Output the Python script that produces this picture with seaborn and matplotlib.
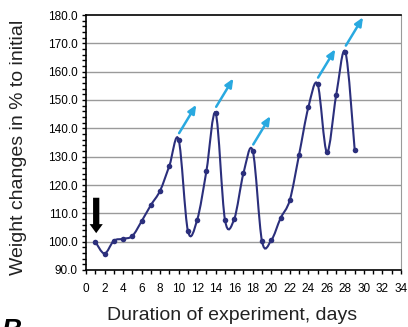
import numpy as np
import matplotlib
matplotlib.use("Agg")
import matplotlib.pyplot as plt
from matplotlib.path import Path
from matplotlib.patches import PathPatch
import seaborn as sns

days = np.arange(1, 30)
weights = [100.0, 95.8, 100.3, 101.0, 102.0, 107.2, 112.9, 118.0, 126.8, 136.0,
           103.8, 107.7, 125.0, 145.3, 107.7, 108.0, 124.2, 132.0, 100.1, 100.5,
           108.3, 114.7, 130.7, 147.4, 155.6, 131.6, 151.6, 166.9, 132.5]
arrow_days = [10, 14, 18, 25, 28]   # peaks marked with blue arrows
start_day = 1                       # black arrow

x_ticks = np.arange(0, 35, 2)
y_ticks = np.arange(90, 181, 10)

sns.set_style("ticks")
plt.rcParams['font.family'] = ['Liberation Sans', 'DejaVu Sans']
plt.rcParams['text.color'] = 'black'

fig = plt.figure(figsize=(4.08, 3.27), dpi=100)
ax = fig.add_axes([86 / 408, 1 - 270 / 327, 315 / 408, 255 / 327])

navy = '#2b2f7c'
cyan = '#29a9e0'

# smoothed line (Catmull-Rom style, like Excel "smoothed line")
pts = np.column_stack([days, weights]).astype(float)
n = len(pts)
verts = [pts[0]]
codes = [Path.MOVETO]
for i in range(n - 1):
    p0 = pts[max(i - 1, 0)]
    p1 = pts[i]
    p2 = pts[i + 1]
    p3 = pts[min(i + 2, n - 1)]
    verts += [p1 + (p2 - p0) / 6, p2 - (p3 - p1) / 6, p2]
    codes += [Path.CURVE4] * 3
ax.add_patch(PathPatch(Path(verts, codes), facecolor='none', edgecolor=navy,
                       lw=1.5, zorder=3))
sns.scatterplot(x=days, y=weights, ax=ax, color=navy, s=16, linewidth=0, zorder=4)

wmap = dict(zip(days, weights))
for d in arrow_days:
    y0 = wmap[d] + 2.3
    ax.annotate('', xy=(d + 1.9, y0 + 10), xytext=(d + 0.05, y0),
                arrowprops=dict(arrowstyle='-|>,head_length=0.5,head_width=0.22',
                                color=cyan, lw=1.8, shrinkA=0, shrinkB=0), zorder=5)

ax.annotate('', xy=(start_day + 0.1, wmap[start_day] + 3), xytext=(start_day + 0.1, wmap[start_day] + 15.5),
            arrowprops=dict(arrowstyle='simple,head_length=0.65,head_width=0.95,tail_width=0.45',
                            color='black', lw=0, shrinkA=0, shrinkB=0), zorder=5)

ax.set_xlim(0, 34)
ax.set_ylim(90, 180)
ax.set_xticks(x_ticks)
ax.set_xticks(np.arange(0, 35, 1), minor=True)
ax.set_yticks(y_ticks)
ax.set_yticks(np.arange(90, 181, 2), minor=True)
ax.set_yticklabels([f'{v:.1f}' for v in y_ticks])
ax.tick_params(axis='both', which='both', direction='out', length=3, width=1,
               labelsize=8.5, colors='black', labelcolor='black', pad=3)
ax.tick_params(axis='x', which='major', pad=6)
for v in y_ticks[1:-1]:
    ax.axhline(v, color='#9a9a9a', lw=1, zorder=1)
ax.grid(False)
for s in ['left', 'bottom', 'top']:
    ax.spines[s].set_color('black')
    ax.spines[s].set_linewidth(1.2)
ax.spines['right'].set_color('#9a9a9a')
ax.spines['right'].set_visible(True)
ax.spines['top'].set_visible(True)
ax.set_xlabel('')
ax.set_ylabel('')

fig.text(19 / 408, 1 - 147 / 327, 'Weight changes in % to initial', rotation=90,
         ha='center', va='center', fontsize=14, color='#222222')
fig.text(232 / 408, 1 - 315 / 327, 'Duration of experiment, days',
         ha='center', va='center', fontsize=14, color='#222222')
fig.text(2 / 408, -11 / 327, 'B', fontsize=20, fontweight='bold', fontstyle='italic',
         ha='left', va='baseline')

fig.savefig('out.png', dpi=100)
